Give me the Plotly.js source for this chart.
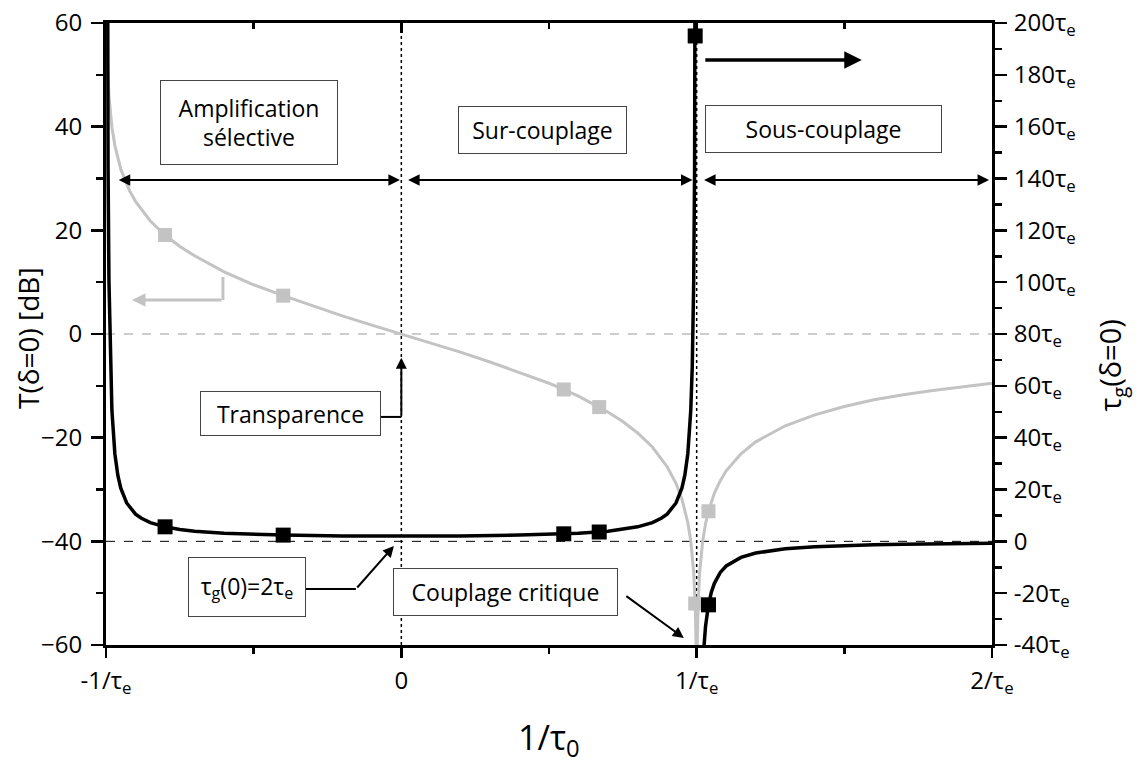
<!DOCTYPE html>
<html>
<head>
<meta charset="utf-8">
<script src="https://cdn.plot.ly/plotly-3.0.1.min.js"></script>
<style>html,body{margin:0;padding:0;background:#fff;}#chart{width:1141px;height:763px;}</style>
</head>
<body>
<div id="chart"></div>
<script>
// x values in units of 1/tau_e
var xGray = [-0.999,-0.998,-0.995,-0.99,-0.98,-0.97,-0.95,-0.92,-0.9,-0.85,-0.8,-0.75,-0.7,-0.6,-0.5,-0.4,-0.3,-0.2,-0.1,0,0.1,0.2,0.3,0.4,0.5,0.6,0.7,0.75,0.8,0.85,0.9,0.93,0.95,0.97,0.98,0.99,0.995,0.998,0.999,1.001,1.002,1.005,1.01,1.02,1.03,1.04,1.06,1.08,1.1,1.15,1.2,1.3,1.4,1.5,1.6,1.7,1.8,1.9,2.0];
// T(delta=0) in dB
var tGray = [66.0,60.0,52.0,46.0,39.9,36.4,31.8,27.6,25.6,21.8,19.1,16.9,15.1,12.0,9.5,7.4,5.4,3.5,1.7,0,-1.7,-3.5,-5.4,-7.4,-9.5,-12.0,-15.1,-16.9,-19.1,-21.8,-25.6,-28.8,-31.8,-36.4,-39.9,-46.0,-52.0,-60.0,-66.0,-66.0,-60.0,-52.1,-46.1,-40.1,-36.6,-34.2,-30.7,-28.3,-26.4,-23.1,-20.8,-17.7,-15.6,-14.0,-12.7,-11.7,-10.9,-10.2,-9.5];

var xBlack = [-0.9975,-0.995,-0.993,-0.99,-0.985,-0.98,-0.97,-0.96,-0.95,-0.93,-0.9,-0.88,-0.85,-0.8,-0.75,-0.7,-0.6,-0.5,-0.4,-0.2,0,0.2,0.4,0.5,0.6,0.7,0.75,0.8,0.85,0.88,0.9,0.93,0.95,0.96,0.97,0.98,0.985,0.99,0.993,0.995,0.9975,null,1.0225,1.025,1.03,1.04,1.05,1.06,1.08,1.1,1.15,1.2,1.3,1.4,1.5,1.6,1.7,1.8,1.9,2.0];
// group delay tau_g(delta=0) in units of tau_e
var tauBlack = [400.5,200.5,143.4,100.5,67.2,50.5,33.8,25.5,20.5,14.8,10.5,8.9,7.2,5.6,4.6,3.9,3.1,2.7,2.4,2.1,2.0,2.1,2.4,2.7,3.1,3.9,4.6,5.6,7.2,8.9,10.5,14.8,20.5,25.5,33.8,50.5,67.2,100.5,143.4,200.5,400.5,null,-44.0,-39.5,-32.8,-24.5,-19.5,-16.2,-12.0,-9.5,-6.2,-4.5,-2.9,-2.1,-1.6,-1.3,-1.1,-0.9,-0.8,-0.7];

var xGrayMk = [-0.8,-0.4,0.55,0.67,0.995,1.04];
var tGrayMk = [19.1,7.4,-10.7,-14.1,-52.0,-34.2];
var xBlackMk = [-0.8,-0.4,0.55,0.67,0.995,1.04];
var tauBlackMk = [5.6,2.4,2.9,3.6,195,-24.5];

var xTickVals = [-1,0,1,2];
var xTickLabels = ['-1/τ<sub>e</sub>','0','1/τ<sub>e</sub>','2/τ<sub>e</sub>'];
var yTickVals = [-60,-40,-20,0,20,40,60];
var tauTickVals = [-40,-20,0,20,40,60,80,100,120,140,160,180,200];
var tauTickLabels = ['-40τ<sub>e</sub>','-20τ<sub>e</sub>','0','20τ<sub>e</sub>','40τ<sub>e</sub>','60τ<sub>e</sub>','80τ<sub>e</sub>','100τ<sub>e</sub>','120τ<sub>e</sub>','140τ<sub>e</sub>','160τ<sub>e</sub>','180τ<sub>e</sub>','200τ<sub>e</sub>'];

var GRAY = '#c3c3c3';
var FONT = 'Open Sans, sans-serif';

var traces = [
  {x: xGray, y: tGray, mode: 'lines', line: {color: GRAY, width: 3}, yaxis: 'y', hoverinfo: 'skip'},
  {x: xGrayMk, y: tGrayMk, mode: 'markers', marker: {symbol: 'square', size: 14, color: GRAY}, yaxis: 'y', hoverinfo: 'skip'},
  {x: xBlack, y: tauBlack, mode: 'lines', connectgaps: false, line: {color: '#000', width: 3.5}, yaxis: 'y2', hoverinfo: 'skip'},
  {x: xBlackMk, y: tauBlackMk, mode: 'markers', marker: {symbol: 'square', size: 15, color: '#000'}, yaxis: 'y2', hoverinfo: 'skip'},
  {x: [-1, 2], y: [0, 0], mode: 'markers', marker: {opacity: 0}, xaxis: 'x2', yaxis: 'y', hoverinfo: 'skip'}
];

function box(text, x, y, w, h) {
  return {text: text, x: x, y: y, xref: 'x', yref: 'y', showarrow: false,
    font: {family: FONT, size: 23, color: '#000'}, bgcolor: '#fff',
    bordercolor: '#444', borderwidth: 1, borderpad: 2,
    width: w - 6, height: h - 6, align: 'center', valign: 'middle'};
}
function arrow(x0, y0, x1, y1, color, width, both, head, size) {
  return {text: '', x: x1, y: y1, ax: x0, ay: y0, xref: 'x', yref: 'y', axref: 'x', ayref: 'y',
    showarrow: true, arrowhead: head, startarrowhead: head, arrowsize: size, startarrowsize: size,
    arrowwidth: width, arrowcolor: color, arrowside: both ? 'end+start' : 'end', standoff: 0, startstandoff: 0};
}

var annotations = [
  box('Amplification<br>sélective', -0.516, 40.9, 178, 85),
  box('Sur-couplage', 0.4775, 39.36, 169, 48),
  box('Sous-couplage', 1.4287, 39.55, 237, 48),
  box('Transparence', -0.3755, -15.34, 181, 45),
  box('τ<sub>g</sub>(0)=2τ<sub>e</sub>', -0.5227, -48.81, 118, 60),
  box('Couplage critique', 0.3523, -49.78, 225, 48),
  arrow(-0.962, 29.7, -0.005, 29.7, '#000', 2, true, 2, 1.15),
  arrow(0.018, 29.7, 0.986, 29.7, '#000', 2, true, 2, 1.15),
  arrow(1.02, 29.7, 1.99, 29.7, '#000', 2, true, 2, 1.15),
  arrow(0, -16.0, 0, -4.6, '#000', 2, false, 2, 1.1),
  arrow(-0.1538, -49.2, -0.0251, -40.9, '#000', 2, false, 2, 1.1),
  arrow(0.7568, -50.36, 0.9565, -58.65, '#000', 2, false, 2, 1.1),
  arrow(-0.604, 6.56, -0.912, 6.56, GRAY, 3, false, 2, 0.9),
  arrow(1.0242, 52.86, 1.559, 52.86, '#000', 3.5, false, 2, 1),
  {text: 'T(δ=0) [dB]', textangle: -90, x: -0.088, y: 0.4936, xref: 'paper', yref: 'paper',
   xanchor: 'center', yanchor: 'middle', showarrow: false, font: {family: FONT, size: 28, color: '#000'}},
  {text: 'τ<sub>g</sub>(δ=0)', textangle: -90, x: 1.135, y: 0.4486, xref: 'paper', yref: 'paper',
   xanchor: 'center', yanchor: 'middle', showarrow: false, font: {family: FONT, size: 29, color: '#000'}},
  {text: '1/τ<sub>0</sub>', x: 0.5, y: -0.1077, xref: 'paper', yref: 'paper',
   xanchor: 'center', yanchor: 'top', showarrow: false, font: {family: FONT, size: 34, color: '#000'}}
];

var shapes = [
  {type: 'line', xref: 'paper', yref: 'y', x0: 0, x1: 1, y0: 0, y1: 0, line: {color: '#999', width: 1, dash: 'dash'}, layer: 'below'},
  {type: 'line', xref: 'paper', yref: 'y', x0: 0, x1: 1, y0: -40, y1: -40, line: {color: '#000', width: 1, dash: 'dash'}, layer: 'below'},
  {type: 'line', xref: 'x', yref: 'paper', x0: 0, x1: 0, y0: 0, y1: 1, line: {color: '#000', width: 1.5, dash: 'dot'}, layer: 'below'},
  {type: 'line', xref: 'x', yref: 'paper', x0: 1, x1: 1, y0: 0, y1: 1, line: {color: '#000', width: 1.5, dash: 'dot'}, layer: 'below'},
  {type: 'line', xref: 'x', yref: 'y', x0: -0.0692, x1: 0, y0: -16.0, y1: -16.0, line: {color: '#000', width: 2}},
  {type: 'line', xref: 'x', yref: 'y', x0: -0.323, x1: -0.1538, y0: -49.2, y1: -49.2, line: {color: '#000', width: 2}},
  {type: 'line', xref: 'x', yref: 'y', x0: -0.604, x1: -0.604, y0: 11.0, y1: 6.56, line: {color: GRAY, width: 3}}
];

var layout = {
  width: 1141, height: 763,
  margin: {l: 106, r: 149, t: 23, b: 118, pad: 0},
  paper_bgcolor: '#fff', plot_bgcolor: '#fff',
  showlegend: false,
  font: {family: FONT, size: 24, color: '#000'},
  xaxis: {range: [-1, 2], tickvals: xTickVals, ticktext: xTickLabels, ticks: 'outside', ticklen: 10, tickwidth: 2.5,
    tickcolor: '#000', showline: true, linewidth: 3, linecolor: '#000', zeroline: false, showgrid: false,
    tickfont: {family: FONT, size: 24}, ticklabelstandoff: 2,
    minor: {tickvals: [-0.5, 0.5, 1.5], ticks: 'outside', ticklen: 6, tickwidth: 2.5, tickcolor: '#000', showgrid: false}},
  xaxis2: {range: [-1, 2], overlaying: 'x', side: 'top', anchor: 'y', tickvals: xTickVals, ticks: 'inside', ticklen: 10, tickwidth: 2.5,
    tickcolor: '#000', showticklabels: false, showline: true, linewidth: 3, linecolor: '#000', zeroline: false, showgrid: false,
    minor: {tickvals: [-0.5, 0.5, 1.5], ticks: 'inside', ticklen: 6, tickwidth: 2.5, tickcolor: '#000', showgrid: false}},
  yaxis: {range: [-60, 60], tickvals: yTickVals, ticks: 'outside', ticklen: 12, tickwidth: 2.5, tickcolor: '#000',
    showline: true, linewidth: 3, linecolor: '#000', zeroline: false, showgrid: false,
    tickfont: {family: FONT, size: 24}, ticklabelstandoff: 4,
    minor: {dtick: 10, ticks: 'outside', ticklen: 7, tickwidth: 2.5, tickcolor: '#000', showgrid: false}},
  yaxis2: {range: [-40, 200], overlaying: 'y', side: 'right', anchor: 'x', tickvals: tauTickVals, ticktext: tauTickLabels,
    ticks: 'outside', ticklen: 12, tickwidth: 2.5, tickcolor: '#000',
    showline: true, linewidth: 3, linecolor: '#000', zeroline: false, showgrid: false,
    tickfont: {family: FONT, size: 24}, ticklabelstandoff: 2,
    minor: {dtick: 10, ticks: 'outside', ticklen: 7, tickwidth: 2.5, tickcolor: '#000', showgrid: false}},
  annotations: annotations,
  shapes: shapes
};

Plotly.newPlot('chart', traces, layout, {displayModeBar: false, staticPlot: true});
</script>
</body>
</html>
